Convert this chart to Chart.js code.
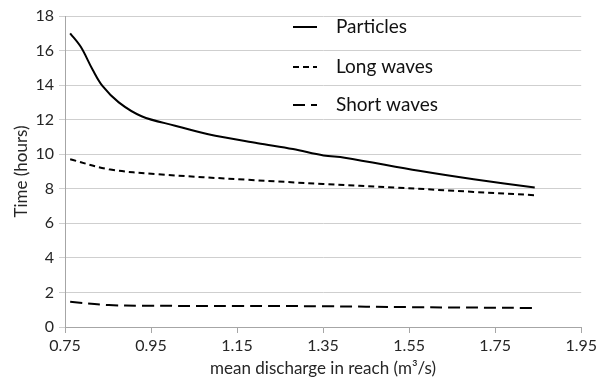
<!DOCTYPE html>
<html>
<head>
<meta charset="utf-8">
<script src="https://cdn.jsdelivr.net/npm/chart.js@4/dist/chart.umd.min.js"></script>
<style>
  html, body { margin: 0; padding: 0; background: #fff; }
  #wrap { width: 600px; height: 379px; }
</style>
</head>
<body>
<div id="wrap"><canvas id="chart"></canvas></div>
<script>
// discharge (m3/s) and time (hours)
const particleQ = [0.762, 0.787, 0.814, 0.837, 0.875, 0.928, 1.006, 1.083, 1.198, 1.28, 1.351, 1.40, 1.573, 1.70, 1.842];
const particleT = [17.0, 16.2, 14.9, 13.95, 13.0, 12.2, 11.65, 11.16, 10.64, 10.3, 9.93, 9.8, 9.04, 8.55, 8.07];

const longQ = [0.762, 0.852, 0.967, 1.175, 1.35, 1.52, 1.70, 1.842];
const longT = [9.71, 9.13, 8.84, 8.52, 8.28, 8.07, 7.82, 7.63];

const shortQ = [0.762, 0.852, 0.93, 1.15, 1.35, 1.55, 1.842];
const shortT = [1.46, 1.27, 1.23, 1.22, 1.2, 1.15, 1.1];

const xTicks = [0.75, 0.95, 1.15, 1.35, 1.55, 1.75, 1.95];
const labels = ['Particles', 'Long waves', 'Short waves'];

const FONT = 'Lato, "DejaVu Sans", sans-serif';
const TEXT = '#262626';

function pts(xs, ys) {
  return xs.map((x, i) => ({ x, y: ys[i] }));
}

function series(label, xs, ys, dash) {
  return {
    label,
    data: pts(xs, ys),
    borderColor: '#000',
    borderWidth: 2,
    borderDash: dash,
    pointRadius: 0,
    tension: 0.35,
    fill: false
  };
}

// legend drawn inside the plot like the original
const legendPlugin = {
  id: 'inlineLegend',
  afterDraw(chart) {
    const ctx = chart.ctx;
    const rows = [27, 67, 105];
    ctx.save();
    chart.data.datasets.forEach((ds, i) => {
      const y = rows[i];
      ctx.beginPath();
      ctx.setLineDash(ds.borderDash || []);
      ctx.lineWidth = 2;
      ctx.strokeStyle = '#000';
      ctx.moveTo(293, y);
      ctx.lineTo(317, y);
      ctx.stroke();
      ctx.setLineDash([]);
      ctx.fillStyle = '#111';
      ctx.font = '19px ' + FONT;
      ctx.textBaseline = 'middle';
      ctx.textAlign = 'left';
      ctx.fillText(ds.label, 336, y);
    });
    ctx.restore();
  }
};

new Chart(document.getElementById('chart'), {
  type: 'line',
  data: {
    datasets: [
      series(labels[0], particleQ, particleT, []),
      series(labels[1], longQ, longT, [6, 4]),
      series(labels[2], shortQ, shortT, [12, 6])
    ]
  },
  options: {
    responsive: true,
    maintainAspectRatio: false,
    animation: false,
    layout: { padding: { top: 16, right: 14, left: 0, bottom: 0 } },
    plugins: {
      legend: { display: false },
      tooltip: { enabled: false }
    },
    scales: {
      x: {
        type: 'linear',
        min: 0.75,
        max: 1.95,
        afterBuildTicks: (scale) => {
          scale.ticks = xTicks.map(v => ({ value: v }));
        },
        afterFit: (scale) => { scale.height = 52; },
        grid: {
          drawOnChartArea: false,
          drawTicks: true,
          tickLength: 6,
          color: '#a6a6a6'
        },
        border: { color: '#a6a6a6', width: 1 },
        ticks: {
          color: TEXT,
          font: { family: FONT, size: 16 },
          padding: 3,
          maxRotation: 0,
          callback: v => v.toFixed(2)
        },
        title: {
          display: true,
          text: 'mean discharge in reach (m³/s)',
          color: TEXT,
          font: { family: FONT, size: 17 },
          padding: { top: 0, bottom: 0 }
        }
      },
      y: {
        min: 0,
        max: 18,
        afterFit: (scale) => { scale.width = 65; },
        grid: {
          color: '#cfcfcf',
          tickLength: 6,
          drawTicks: true
        },
        border: { color: '#a6a6a6', width: 1 },
        ticks: {
          stepSize: 2,
          color: TEXT,
          font: { family: FONT, size: 16 },
          padding: 5
        },
        title: {
          display: true,
          text: 'Time (hours)',
          color: TEXT,
          font: { family: FONT, size: 17 },
          padding: { top: 11, bottom: 4 }
        }
      }
    }
  },
  plugins: [legendPlugin]
});
</script>
</body>
</html>
